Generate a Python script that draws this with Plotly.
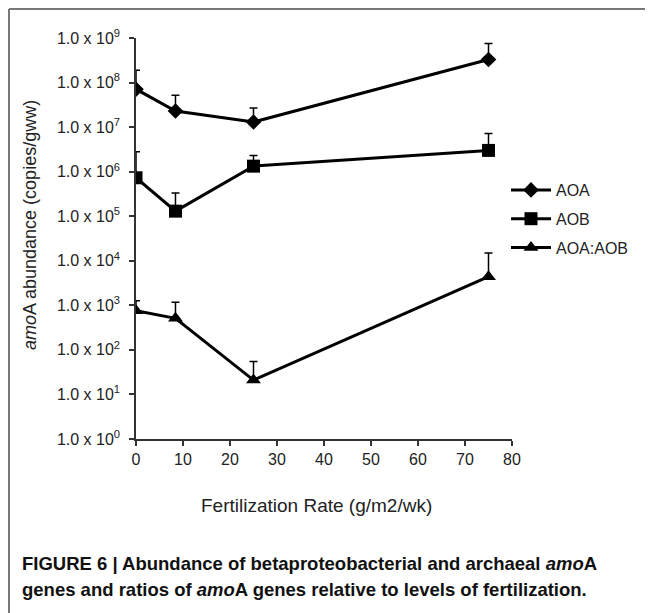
import plotly.graph_objects as go

# Data
fert = [0, 8.4, 25, 75]
aoa = [7.1e7, 2.3e7, 1.3e7, 3.3e8]
aoa_err_top = [1.9e8, 5.2e7, 2.7e7, 7.5e8]
aob = [7.3e5, 1.3e5, 1.33e6, 3.0e6]
aob_err_top = [2.8e6, 3.3e5, 2.3e6, 7.2e6]
ratio = [760, 510, 21, 4400]
ratio_err_top = [1260, 1170, 55, 15000]

series_names = ["AOA", "AOB", "AOA:AOB"]
tick_exps = list(range(0, 10))
x_ticks = [0, 10, 20, 30, 40, 50, 60, 70, 80]

FONT = "Liberation Sans, Arial, Helvetica, sans-serif"

fig = go.Figure()
symbols = ["diamond", "square", "triangle-up"]
sizes = [12, 13, 13]
vals = [aoa, aob, ratio]
tops = [aoa_err_top, aob_err_top, ratio_err_top]
for name, sym, sz, v, t in zip(series_names, symbols, sizes, vals, tops):
    fig.add_trace(go.Scatter(
        x=fert, y=v, name=name, mode="lines+markers",
        legendgroup=name,
        line=dict(color="black", width=3),
        marker=dict(symbol=sym, size=sz, color="black"),
        error_y=dict(type="data", symmetric=False,
                     array=[tt - vv for tt, vv in zip(t, v)],
                     arrayminus=[0] * len(v),
                     color="black", thickness=1.5, width=4),
    ))

# page has an 8px body margin; work in figure coordinates
OFF = 8
W, H = 653 - OFF, 613 - OFF
L, R, T, B = 136 - OFF, 512 - OFF, 38 - OFF, 439 - OFF
pw, ph = R - L, B - T

def px(x):
    return (x - OFF - L) / pw

def py(y):
    return (B - (y - OFF)) / ph

fig.update_layout(
    width=W, height=H, autosize=False,
    margin=dict(l=L, r=W - R, t=T, b=H - B, pad=0),
    paper_bgcolor="white", plot_bgcolor="white",
    font=dict(family=FONT, size=16, color="#222"),
    showlegend=True,
    legend=dict(x=px(506), y=py(173), xanchor="left", yanchor="top",
                font=dict(size=16, color="#222"), tracegroupgap=5,
                itemwidth=40, bgcolor="rgba(0,0,0,0)"),
    xaxis=dict(range=[0, 80], tickvals=x_ticks, ticks="outside", ticklen=5,
               tickwidth=1.5, tickcolor="#333", showline=True, linecolor="#333",
               linewidth=1.5, showgrid=False, zeroline=False,
               tickfont=dict(size=16, color="#222")),
    yaxis=dict(type="log", range=[0, 9],
               tickvals=[10 ** e for e in tick_exps],
               ticktext=[f"1.0 x 10<sup>{e}</sup>" for e in tick_exps],
               ticks="outside", ticklen=5, tickwidth=1.5, tickcolor="#333",
               showline=True, linecolor="#333", linewidth=1.5,
               showgrid=False, zeroline=False, ticklabelstandoff=6,
               tickfont=dict(size=16, color="#222")),
)

# Figure frame (top and left edges)
fig.add_shape(type="line", xref="paper", yref="paper",
              x0=px(OFF + 1), x1=px(700), y0=py(OFF + 1), y1=py(OFF + 1),
              line=dict(color="#777", width=2))
fig.add_shape(type="line", xref="paper", yref="paper",
              x0=px(OFF + 1), x1=px(OFF + 1), y0=py(OFF + 1), y1=py(700),
              line=dict(color="#777", width=2))

fig.add_annotation(text="<i>amo</i>A abundance (copies/gww)", textangle=-90,
                   xref="paper", yref="paper", x=px(30), y=py(225),
                   xanchor="center", yanchor="middle", showarrow=False,
                   font=dict(size=18, color="#222"))
fig.add_annotation(text="Fertilization Rate (g/m2/wk)",
                   xref="paper", yref="paper", x=px(316), y=py(505),
                   xanchor="center", yanchor="middle", showarrow=False,
                   font=dict(size=19, color="#222"))
fig.add_annotation(text="<b>FIGURE 6 | Abundance of betaproteobacterial and archaeal <i>amo</i>A</b>",
                   xref="paper", yref="paper", x=px(20), y=py(563),
                   xanchor="left", yanchor="middle", showarrow=False,
                   font=dict(size=18.5, color="#111"))
fig.add_annotation(text="<b>genes and ratios of <i>amo</i>A genes relative to levels of fertilization.</b>",
                   xref="paper", yref="paper", x=px(20), y=py(589),
                   xanchor="left", yanchor="middle", showarrow=False,
                   font=dict(size=18.5, color="#111"))

fig.write_html("out.html")
